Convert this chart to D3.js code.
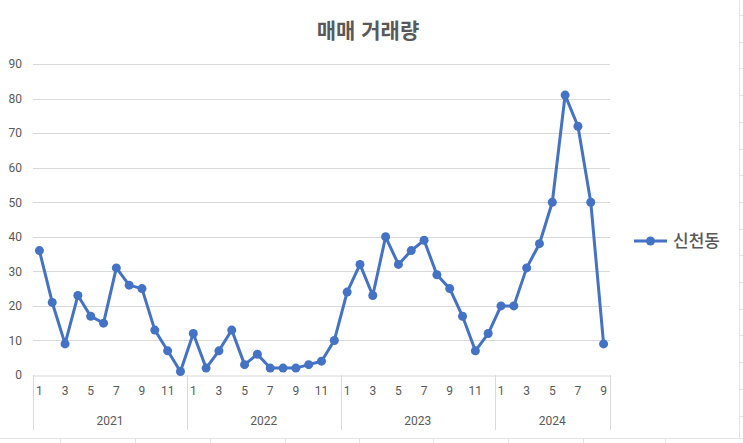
<!DOCTYPE html>
<html lang="ko">
  <head>
    <meta charset="utf-8" />
    <script src="https://cdn.jsdelivr.net/npm/d3@7"></script>
    <style>
      body { margin: 0; background: #fff; }
      svg { display: block; font-family: "Noto Sans CJK KR", "Noto Sans", sans-serif; }
    </style>
  </head>
  <body>
    <svg id="chart" width="743" height="443"></svg>
    <script>
      // monthly sales counts (매매 거래량), 신천동
      var years = [2021, 2022, 2023, 2024];
      var sales2021 = [36, 21, 9, 23, 17, 15, 31, 26, 25, 13, 7, 1];
      var sales2022 = [12, 2, 7, 13, 3, 6, 2, 2, 2, 3, 4, 10];
      var sales2023 = [24, 32, 23, 40, 32, 36, 39, 29, 25, 17, 7, 12];
      var sales2024 = [20, 20, 31, 38, 50, 81, 72, 50, 9];
      var yTicks = [0, 10, 20, 30, 40, 50, 60, 70, 80, 90];
      var seriesName = "신천동";
      var title = "매매 거래량";

      var byYear = [sales2021, sales2022, sales2023, sales2024];
      var points = [];
      byYear.forEach(function (arr, i) {
        arr.forEach(function (v, m) {
          points.push({ idx: points.length, year: years[i], month: m + 1, value: v });
        });
      });

      var svg = d3.select("#chart");
      // plot area (window.top is reserved, so no "top" here)
      var plotL = 33, plotR = 610, plotT = 64, plotB = 375;
      var grey = "#595959", grid = "#d9d9d9", blue = "#4472C4";

      var x = d3.scaleBand().domain(points.map(function (d) { return d.idx; })).range([plotL, plotR]);
      var y = d3.scaleLinear().domain([0, 90]).range([plotB, plotT]);

      // spreadsheet cells behind the chart
      svg.append("line").attr("x1", 0).attr("x2", 743).attr("y1", 438.5).attr("y2", 438.5)
        .attr("stroke", "#e3e3e3");
      [60, 135, 210, 285, 359, 433, 508, 583, 665].forEach(function (cx) {
        svg.append("line").attr("x1", cx + 0.5).attr("x2", cx + 0.5).attr("y1", 439).attr("y2", 443)
          .attr("stroke", "#e3e3e3");
      });
      svg.append("line").attr("x1", 739.5).attr("x2", 739.5).attr("y1", 0).attr("y2", 439)
        .attr("stroke", "#e3e3e3");
      d3.range(15, 440, 26.7).forEach(function (cy) {
        svg.append("line").attr("x1", 740).attr("x2", 743).attr("y1", Math.round(cy) + 0.5)
          .attr("y2", Math.round(cy) + 0.5).attr("stroke", "#e3e3e3");
      });

      // title
      svg.append("text").attr("x", 368).attr("y", 38).attr("text-anchor", "middle")
        .attr("font-size", 21).attr("font-weight", "bold").attr("fill", grey).text(title);

      // gridlines
      svg.append("g").selectAll("line").data(yTicks.slice(1)).join("line")
        .attr("x1", plotL).attr("x2", plotR)
        .attr("y1", function (d) { return Math.round(y(d)) + 0.5; })
        .attr("y2", function (d) { return Math.round(y(d)) + 0.5; })
        .attr("stroke", grid);

      // y axis
      var yAxis = svg.append("g").attr("transform", "translate(22,0)")
        .call(d3.axisLeft(y).tickValues(yTicks).tickSize(0).tickPadding(0));
      yAxis.select(".domain").remove();
      yAxis.selectAll("text").attr("fill", grey).attr("font-size", 12)
        .attr("font-family", "Roboto, 'Noto Sans', sans-serif");

      // x axis: baseline and month labels
      var xAxis = svg.append("g").attr("transform", "translate(0," + (plotB + 0.5) + ")")
        .call(d3.axisBottom(x).tickSize(0).tickPadding(11)
          .tickFormat(function (i) { var m = points[i].month; return m % 2 === 1 ? m : ""; }));
      xAxis.select(".domain").attr("stroke", grid);
      xAxis.selectAll("text").attr("fill", grey).attr("font-size", 12)
        .attr("font-family", "Roboto, 'Noto Sans', sans-serif");

      // year group separators and labels
      var groups = [];
      byYear.forEach(function (arr, i) {
        var first = points.find(function (p) { return p.year === years[i]; });
        groups.push({ year: years[i], x0: x(first.idx), x1: x(first.idx) + x.bandwidth() * arr.length });
      });
      var edges = groups.map(function (s) { return s.x0; }).concat([plotR]);
      svg.append("g").selectAll("line").data(edges).join("line")
        .attr("x1", function (d) { return Math.round(d) + 0.5; })
        .attr("x2", function (d) { return Math.round(d) + 0.5; })
        .attr("y1", plotB).attr("y2", 430).attr("stroke", grid);
      svg.append("g").selectAll("text").data(groups).join("text")
        .attr("x", function (d) { return (d.x0 + d.x1) / 2; })
        .attr("y", 425).attr("text-anchor", "middle").attr("font-size", 12)
        .attr("font-family", "Roboto, 'Noto Sans', sans-serif").attr("fill", grey)
        .text(function (d) { return d.year; });

      // series line
      var cx = function (d) { return x(d.idx) + x.bandwidth() / 2; };
      var line = d3.line().x(cx).y(function (d) { return y(d.value); });
      svg.append("path").datum(points).attr("d", line)
        .attr("fill", "none").attr("stroke", blue).attr("stroke-width", 3)
        .attr("stroke-linejoin", "round");
      svg.append("g").selectAll("circle").data(points).join("circle")
        .attr("cx", cx).attr("cy", function (d) { return y(d.value); })
        .attr("r", 4.5).attr("fill", blue);

      // legend
      var lg = svg.append("g").attr("transform", "translate(634,241)");
      lg.append("line").attr("x1", 0).attr("x2", 33).attr("stroke", blue).attr("stroke-width", 3);
      lg.append("circle").attr("cx", 16.5).attr("r", 4.5).attr("fill", blue);
      lg.append("text").attr("x", 39).attr("y", 6).attr("font-size", 17).attr("font-weight", 500)
        .attr("fill", grey).text(seriesName);
    </script>
  </body>
</html>
